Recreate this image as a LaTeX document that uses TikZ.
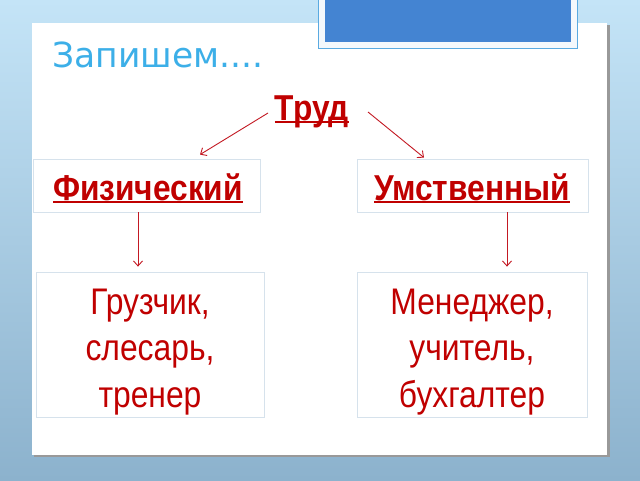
\documentclass[tikz,border=0pt]{standalone}
\usepackage{fontspec}
\setmainfont{Liberation Sans}
\newfontfamily\narrowfont[FakeStretch=0.86]{Liberation Sans}
\newfontfamily\headfont[FakeStretch=0.88]{Liberation Sans}
\newfontfamily\titlefont{DejaVu Sans}
\usetikzlibrary{arrows.meta,positioning}
\definecolor{trudred}{RGB}{192,0,0}
\definecolor{arrowred}{RGB}{195,25,35}
\definecolor{titleblue}{RGB}{60,175,232}
\definecolor{bgtop}{RGB}{196,228,247}
\definecolor{bgbot}{RGB}{140,178,205}
\definecolor{framegray}{RGB}{214,226,236}
\definecolor{capblue}{RGB}{68,132,210}
\definecolor{caprim}{RGB}{90,170,225}
\newcommand\ulword[1]{\setbox0\hbox{#1}\rlap{\raisebox{-3pt}{\rule{\wd0}{2pt}}}\box0}
\begin{document}
\begin{tikzpicture}[x=1pt,y=-1pt,
	box/.style={draw=framegray, line width=0.8pt, inner sep=0pt},
	head/.style={text=trudred, font=\headfont\bfseries\fontsize{36}{40}\selectfont},
	job/.style={text=trudred, align=center, font=\narrowfont\fontsize{37}{46.5}\selectfont},
	arr/.style={draw=arrowred, line width=0.9pt, -{Straight Barb[length=5pt,width=9pt]}}]
\useasboundingbox (0,0) rectangle (640,480);
% background and slide
\shade[top color=bgtop, bottom color=bgbot] (0,0) rectangle (640,480);
\fill[gray!80] (34,25) rectangle (610,457);
\fill[white] (32,23) rectangle (607,455);
\draw[caprim, fill=white!94!capblue, line width=0.8pt] (318,-2) rectangle (577,48);
\fill[capblue] (325,-2) rectangle (571,42);
% title
\node[anchor=base west, text=titleblue, font=\titlefont\fontsize{34.5}{40}\selectfont, inner sep=0pt] (title) at (52,67) {Запишем....};
% scheme
\node[head, anchor=base, inner sep=0pt] (trud) at (312,120) {\ulword{Труд}};
\node[box, minimum width=227pt, minimum height=53pt] (phys) at (146.5,185.5) {};
\node[box, minimum width=231pt, minimum height=53pt] (ment) at (472.5,185.5) {};
\node[head, anchor=base, inner sep=0pt] (physlbl) at (148,200) {\ulword{Физический}};
\node[head, anchor=base, inner sep=0pt] (mentlbl) at (472,200) {\ulword{Умственный}};
\node[box, minimum width=228pt, minimum height=145pt] (jobsl) at (150,344.5) {};
\node[box, minimum width=230pt, minimum height=145pt] (jobsr) at (472.5,344.5) {};
\node[job, anchor=base] at (150,407) {Грузчик,\\слесарь,\\тренер};
\node[job, anchor=base] at (472,407) {Менеджер,\\учитель,\\бухгалтер};
% arrows
\draw[arr] ([shift={(-44,-7)}]trud.base) -- ([shift={(53.5,-4)}]phys.north);
\draw[arr] ([shift={(56,-8)}]trud.base) -- ([shift={(-48.5,-1)}]ment.north);
\draw[arr] ([shift={(-8.5,0)}]phys.south) -- ([shift={(-12,-5)}]jobsl.north);
\draw[arr] ([shift={(34.5,0)}]ment.south) -- ([shift={(34.5,-5)}]jobsr.north);
\end{tikzpicture}
\end{document}
